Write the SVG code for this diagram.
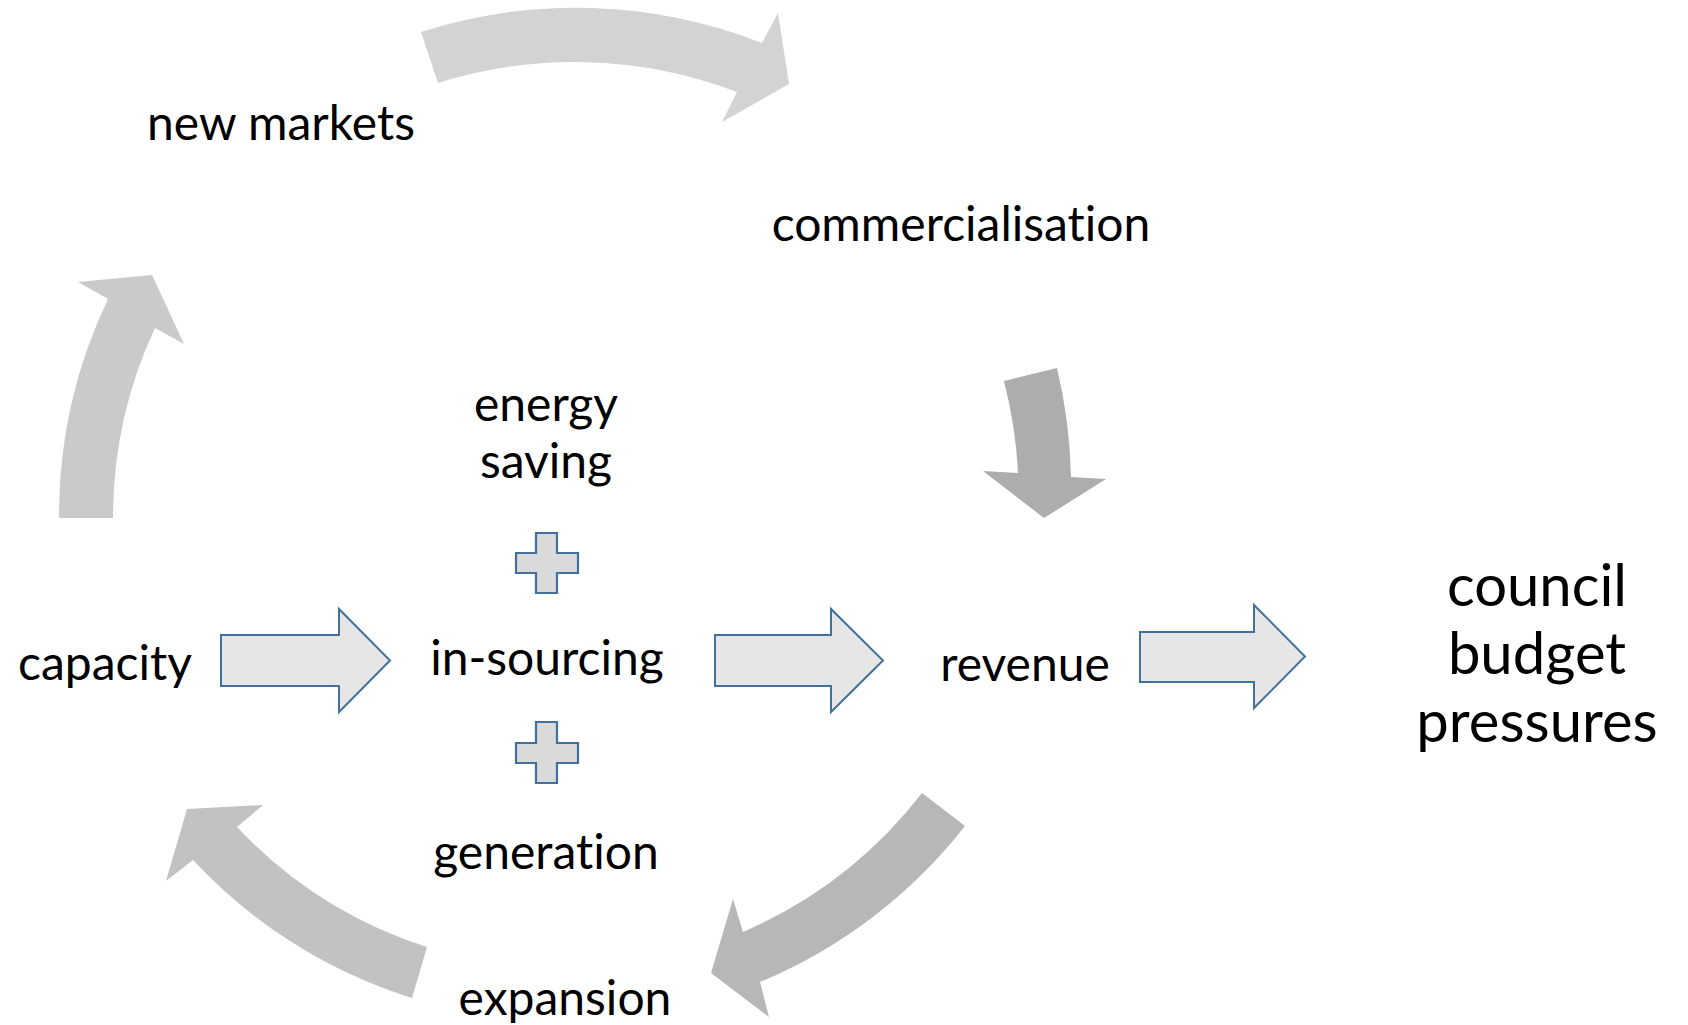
<svg xmlns="http://www.w3.org/2000/svg" width="1688" height="1025" viewBox="0 0 1688 1025">
  <style>
    .lbl { font-family: Lato, "Open Sans", "Liberation Sans", sans-serif; font-size: 48px; fill: #000; text-anchor: middle; font-variant-ligatures: none; font-feature-settings: "liga" 0, "clig" 0; }
    .big { font-family: Lato, "Open Sans", "Liberation Sans", sans-serif; font-size: 58px; fill: #000; text-anchor: middle; font-variant-ligatures: none; font-feature-settings: "liga" 0, "clig" 0; }
    .blk { fill: #e6e6e6; stroke: #41719c; stroke-width: 2; stroke-linejoin: miter; }
    .crs { fill: #dadada; stroke: #41719c; stroke-width: 2.2; }
  </style>
  <rect width="1688" height="1025" fill="#ffffff"/>
  <g id="connectors">
    <path id="arc-top" fill="#d3d3d3" d="M421,32 A508,508 0 0 1 762,43 L778,13 L789,84 L722,122 L737,92 A454,454 0 0 0 438,83 Z"/>
    <path id="arc-down" fill="#adadad" d="M1057,368 A514,514 0 0 1 1071,477 L1106,479 L1044,518 L983,471 L1018,473 A461,461 0 0 0 1004,381 Z"/>
    <path id="arc-lower-right" fill="#b7b7b7" d="M965,826 A509,509 0 0 1 760,982 L769,1017 L711,973 L733,899 L743,932 A455,455 0 0 0 922,793 Z"/>
    <path id="arc-lower-left" fill="#c2c2c2" d="M412,998 A505,505 0 0 1 193,860 L166,881 L187,809 L263,805 L237,827 A451,451 0 0 0 427,947 Z"/>
    <path id="arc-left" fill="#cacaca" d="M59,518 A502,502 0 0 1 108,299 L78,282 L152,275 L184,344 L155,328 A448,448 0 0 0 113,518 Z"/>
    <path id="block-1" class="blk" d="M221,635 H339 V609 L390,660.5 L339,712 V686 H221 Z"/>
    <path id="block-2" class="blk" d="M715,635 H831 V609 L883,660.5 L831,712 V686 H715 Z"/>
    <path id="block-3" class="blk" d="M1140,632 H1254 V605 L1305,656.5 L1254,708 V682 H1140 Z"/>
  </g>
  <g id="plus-top"><path class="crs" d="M536,533 H557 V553 H578 V573 H557 V593 H536 V573 H516 V553 H536 Z"/></g>
  <g id="plus-bottom"><path class="crs" d="M536,722 H557 V743 H578 V763 H557 V783 H536 V763 H516 V743 H536 Z"/></g>
  <g id="node-new-markets"><text class="lbl" x="281" y="140">new markets</text></g>
  <g id="node-commercialisation"><text class="lbl" x="961" y="241">commercialisation</text></g>
  <g id="node-energy-saving"><text class="lbl" x="546" y="421">energy</text><text class="lbl" x="546" y="478">saving</text></g>
  <g id="node-in-sourcing"><text class="lbl" x="547" y="675">in-sourcing</text></g>
  <g id="node-capacity"><text class="lbl" x="105" y="680">capacity</text></g>
  <g id="node-revenue"><text class="lbl" x="1025" y="681">revenue</text></g>
  <g id="node-generation"><text class="lbl" x="546" y="869">generation</text></g>
  <g id="node-expansion"><text class="lbl" x="565" y="1015">expansion</text></g>
  <g id="node-council"><text class="big" x="1537" y="606">council</text><text class="big" x="1537" y="674">budget</text><text class="big" x="1537" y="742">pressures</text></g>
</svg>
